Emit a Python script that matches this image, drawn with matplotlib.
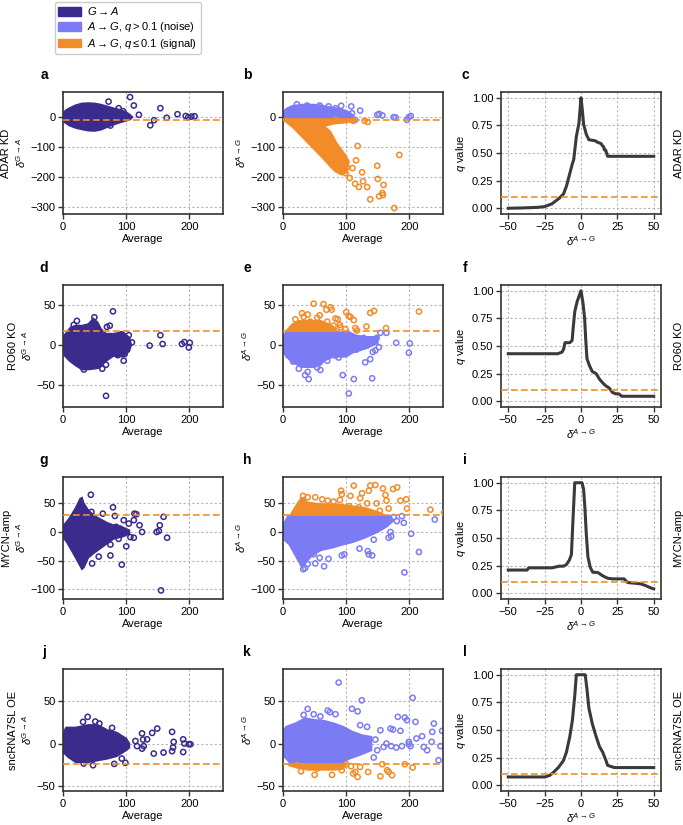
import numpy as np
import matplotlib
matplotlib.use("Agg")
import matplotlib.pyplot as plt
from matplotlib.patches import Patch

plt.rcParams['font.family'] = ['Liberation Sans', 'DejaVu Sans']
plt.rcParams['mathtext.fontset'] = 'custom'
plt.rcParams['mathtext.rm'] = 'Liberation Sans'
plt.rcParams['mathtext.it'] = 'Liberation Sans:italic'
plt.rcParams['mathtext.bf'] = 'Liberation Sans:bold'
plt.rcParams['font.size'] = 8

# colours
GA_COL = '#3b2b8c'
NOISE_COL = '#7b7cf4'
SIGNAL_COL = '#f28c28'
CURVE_COL = '#3a3a3a'

rows = ["ADAR KD", "RO60 KO", "MYCN-amp", "sncRNA7SL OE"]
thresholds = [-10, 17, 30, -23.6]
ylims = [(-323, 84), (-78, 75), (-117, 96), (-56, 88)]

# ---- row 1 : ADAR KD ----
a_core_x = [0, 5, 12, 20, 30, 40, 50, 60, 70, 80, 90, 100, 106, 110, 106, 100, 90, 80, 70, 60, 50, 40, 30, 20, 10, 3, 0]
a_core_y = [14, 24, 32, 40, 46, 47, 46, 42, 36, 30, 25, 17, 8, 0, -8, -12, -18, -25, -33, -42, -46, -45, -41, -36, -28, -18, -12]
a_out_x = [72, 106, 112, 120, 138, 144, 154, 164, 181, 194, 198, 203, 208, 88, 75, 95]
a_out_y = [52, 67, 39, 8, -27, -10, 30, -2, 10, 4, 0, 2, 3, 30, -28, 20]

b_noise_core_x = [0, 5, 15, 30, 50, 60, 70, 85, 100, 108, 112, 112, 0]
b_noise_core_y = [18, 28, 38, 42, 42, 40, 35, 30, 22, 12, 0, -10, -10]
b_noise_x = [22, 38, 58, 72, 83, 92, 108, 122, 109, 149, 152, 157, 175, 178, 196, 199, 202, 114]
b_noise_y = [43, 39, 39, 36, 30, 38, 36, 22, 13, 8, 11, 6, 0, -1, -9, 0, 4, -9]
b_sig_core_x = [0, 112, 112, 100, 80, 65, 75, 85, 100, 104, 100, 92, 82, 75, 60, 45, 30, 15, 0]
b_sig_core_y = [-6, -6, -14, -18, -22, -30, -48, -87, -130, -150, -185, -192, -180, -165, -130, -98, -65, -33, -8]
b_sig_x = [70, 83, 89, 94.5, 100, 101, 99, 105.5, 110, 115.6, 118, 114, 120, 125, 126.6, 133, 138, 149, 150,
           152, 157, 158, 159, 176, 184, 129, 134, 111, 83]
b_sig_y = [-72, -100, -137, -133, -148, -167, -187, -203, -170, -144, -96, -222, -233, -184, -214, -233, -274, -162, -206,
           -264, -253, -260, -226, -303, -126, -12, -16, -12, -9]

c_delta = [-50, -40, -30, -25, -20, -15, -12, -10, -8, -6, -5, -3.2, -1.4, 0, 0.9, 1.8, 3.6, 5.4, 10, 10.9, 13.8,
           14.5, 15.6, 16, 17, 17.6, 18.3, 50]
c_q = [0, 0.003, 0.008, 0.015, 0.04, 0.09, 0.13, 0.2, 0.3, 0.4, 0.44, 0.65, 0.77, 1.0, 0.89, 0.76, 0.67, 0.62, 0.61,
       0.6, 0.585, 0.57, 0.555, 0.53, 0.525, 0.5, 0.47, 0.47]

# ---- row 2 : RO60 KO ----
d_core_x = [0, 5, 12, 20, 30, 40, 48, 55, 60, 68, 80, 95, 105, 108, 105, 95, 80, 65, 58, 50, 40, 30, 20, 10, 3, 0]
d_core_y = [10, 15, 22, 24, 24, 26, 33, 28, 20, 14, 14, 16, 9, 0, -8, -15, -14, -22, -29, -30, -31, -31, -26, -20, -14, -8]
d_out_x = [22, 49.6, 79, 74, 69.5, 92, 104, 109, 96, 97.6, 68, 33, 62, 68, 137, 154, 157.5, 188, 192, 199, 200.5,
           17, 26, 80, 86.5]
d_out_y = [30, 34.5, 42, 24, 22.5, 13, 12, 3, -20, -11.5, -64, -31, -30, -25, -1, 12, 1, 1, 3.4, -3.4, 2.5,
           25, 21, 1, -13]

e_noise_core_x = [0, 5, 105, 115, 130, 150, 150, 130, 110, 100, 80, 65, 60, 50, 30, 15, 5, 0]
e_noise_core_y = [10, 16, 16, 12, 10, 10, 2, -5, -10, -15, -15, -20, -25, -28, -28, -22, -15, -8]
e_noise_x = [16, 25, 35, 39, 40.6, 54, 59, 70, 83, 94.5, 104, 112, 130, 138, 141, 142, 146, 151.5, 148, 154,
             163.6, 179, 199, 200.5, 127.7, 122, 116, 106.6, 88, 133]
e_noise_y = [-21, -30, -38, -34, -43, -28.5, -31.5, -20, -13.6, -38, -61, -43, -22, -18, -42, -9, -7, -3, 8.5, 15,
             15, 2.5, -10, 1.7, 8.5, 6, -6, -1, -16, -1]
e_sig_core_x = [5, 80, 85, 75, 60, 40, 25, 15, 8]
e_sig_core_y = [17, 17, 20, 25, 30, 30, 30, 26, 20]
e_sig_x = [30, 32.7, 48.5, 58, 64, 68.6, 75, 77, 83, 86.5, 90, 100, 104, 106.6, 112, 114.5, 117, 132, 138, 144,
           163, 215, 98.7, 80, 54, 43, 19.5, 39, 70, 91]
e_sig_y = [39.6, 35, 51.5, 37, 51, 44, 47, 44, 33, 32, 25, 41, 36, 35, 31, 21, 18, 23, 40, 42.5,
           21, 41.7, 19.6, 24, 34, 29, 32, 38, 29, 22]

f_delta = [-50, -16, -13, -12, -11, -7.7, -6.1, -5.4, -4.3, -2.7, 0, 1.4, 2.5, 3.2, 4.1, 5.9, 7.7, 10.4, 12.7,
           14.9, 17, 19.4, 21.6, 24, 26, 28, 50]
f_q = [0.43, 0.43, 0.445, 0.47, 0.53, 0.53, 0.55, 0.66, 0.81, 0.9, 1.0, 0.885, 0.75, 0.57, 0.385, 0.32, 0.27, 0.25,
       0.2, 0.167, 0.14, 0.12, 0.08, 0.067, 0.067, 0.045, 0.045]

# ---- row 3 : MYCN-amp ----
g_core_x = [0, 10, 20, 27, 30, 33, 40, 50, 60, 70, 80, 95, 105, 105, 95, 80, 70, 60, 50, 40, 33, 30, 25, 15, 5, 0]
g_core_y = [10, 24, 42, 58, 60, 50, 38, 28, 22, 16, 12, 8, 3, -3, -8, -12, -20, -28, -36, -45, -62, -65, -55, -35, -16, -10]
g_out_x = [44, 45, 63, 79, 82, 96, 104, 112, 113, 116, 121, 125, 106.6, 112, 100, 75, 93, 56.5, 46, 148, 151.5,
           153, 159, 164.6, 155, 70, 75, 88, 84, 90]
g_out_y = [65, 35, 32, 43, 28, 20.6, 14.7, 20.6, 32, 31, 11.8, 0, -9, -10, -25, -41, -57, -43, -55, 0, 1.8,
           11.8, 26.5, -10, -102, -10, -22, -12, 9, 6]

h_noise_core_x = [0, 8, 170, 175, 165, 150, 130, 110, 95, 80, 60, 45, 35, 30, 20, 10, 0]
h_noise_core_y = [12, 28, 28, 20, 10, 0, -10, -18, -22, -27, -32, -42, -55, -62, -42, -22, -12]
h_noise_x = [35, 32, 39, 48.5, 51, 58, 65, 72, 93, 97, 121, 134, 135.6, 141, 143.5, 167, 171, 170, 191, 192,
             202.6, 215, 240, 188, 180, 175]
h_noise_y = [-63, -65, -56, -39, -55, -45, -60, -47, -41, -39, -29, -33.5, -39, -41, -13.5, -10, -7.6, 0, 16, -70.6,
             -3, -35, 21.8, 27.6, 19, 26]
h_sig_core_x = [12, 20, 28, 32, 38, 50, 70, 90, 110, 130, 150, 160]
h_sig_core_y = [30, 45, 58, 60, 52, 50, 48, 48, 45, 42, 35, 30]
h_sig_x = [31.7, 39, 51, 62, 70.7, 80, 90, 92, 93, 106.6, 112, 122, 125, 135.6, 138, 146, 158, 162, 163.6, 174,
           180.5, 185.7, 195, 196, 153, 167, 233, 255, 148, 133, 120, 104.5]
h_sig_y = [63, 60.6, 60.6, 57, 54.7, 53, 56, 72, 66, 63, 81, 58.8, 67.6, 72, 81, 82, 76, 64.7, 54.7, 75,
           78, 54.7, 57, 41, 37, 41, 39, 34, 50, 50, 43, 45]

i_delta = [-50, -37, -36, -20, -15, -12, -10, -8, -6.6, -5.4, -4.3, 0.7, 1.8, 2.7, 3.6, 4.75, 6.3, 8.1, 11.5,
           14.9, 18.3, 21.7, 29.6, 32, 37.7, 41, 44.3, 47.7, 50]
i_q = [0.21, 0.21, 0.23, 0.23, 0.245, 0.245, 0.26, 0.3, 0.35, 0.7, 1.0, 1.0, 0.94, 0.77, 0.545, 0.33, 0.236, 0.19,
       0.188, 0.158, 0.136, 0.13, 0.13, 0.097, 0.09, 0.085, 0.07, 0.05, 0.04]

# ---- row 4 : sncRNA7SL OE ----
j_core_x = [0, 5, 20, 40, 55, 70, 85, 100, 105, 105, 100, 85, 70, 55, 40, 20, 8, 0]
j_core_y = [12, 19, 19, 22, 22, 16, 13, 6, 0, -5, -8, -15, -18, -20, -22, -22, -16, -10]
j_out_x = [31.7, 39, 51, 57.5, 77.6, 83, 81, 98.7, 93, 47.5, 32.7, 114.5, 117, 125, 126.6, 127.7, 125, 133, 141,
           143.5, 149, 159, 172.5, 174, 172.5, 175, 190, 190, 192, 199, 201.6]
j_out_y = [25.6, 31.5, 26, 23.6, 18.5, 4, -24, -22.8, -17.7, -25.6, -23.6, 3, -3, 12, 4.7, -3, -6, 5, 12.6,
           -11.8, 17.7, -10.6, 13.8, -4.7, -9, 2, 5, -10, 0, -0.8, -0.8]

k_noise_core_x = [0, 5, 20, 35, 50, 65, 80, 95, 110, 125, 140, 140, 120, 105, 95, 10, 0]
k_noise_core_y = [14, 20, 24, 30, 28, 27, 24, 20, 14, 10, 8, -8, -14, -18, -22, -22, -14]
k_noise_x = [88, 39, 32.7, 48.5, 59, 70.7, 74, 83, 109, 118, 124.5, 122, 133, 154, 170, 174, 181.5, 185.7, 192.6,
             196, 205, 209.5, 211, 220, 238.5, 236, 251.7, 246, 227.9, 222.6, 199, 201.6, 199, 179, 171, 159,
             143.5, 146, 163.6, 188, 249, 235, 149, 135.6]
k_noise_y = [72, 40.9, 33.8, 34.6, 32, 39, 37, 34.6, 41, 38, 51, 21.7, 19.7, 15.7, 17.7, 16.5, 31.5, 15, 30.7,
             27.6, 54, 25.6, 6, 8.7, 23.6, 13.8, 15, -19.7, -7.9, -4, -0.8, -3, 2, -4.7, -3, -4,
             -16.5, 4.7, 0, -3, -3, 2, -7.9, 3.9]
k_sig_core_x = [8, 100, 95, 80, 60, 40, 20, 10]
k_sig_core_y = [-24, -24, -30, -31, -31, -31, -28, -26]
k_sig_x = [22, 28.5, 39, 50, 54, 62, 69.6, 77.6, 93, 100, 107.6, 110.8, 114.5, 118, 122, 134.6, 154, 157, 164.6,
           167, 172.5, 192.6, 205]
k_sig_y = [-25.6, -32.7, -28, -37, -29.5, -27.6, -26.8, -37, -31.5, -24.4, -26.8, -35.4, -33.5, -39.4, -27.6,
           -33.5, -38.6, -24.4, -31.5, -33.5, -37.4, -24.4, -28.3]

l_delta = [-50, -24.7, -21.3, -19, -15.6, -12.2, -10, -7.7, -5.9, -4.3, -3.2, 2.9, 4.1, 5.4, 7.7, 10.4, 12.7,
           14.9, 17, 18.3, 20.6, 22.9, 50]
l_q = [0.075, 0.075, 0.091, 0.116, 0.16, 0.22, 0.3, 0.44, 0.59, 0.81, 1.0, 1.0, 0.87, 0.7, 0.56, 0.44, 0.35,
       0.3, 0.23, 0.18, 0.17, 0.16, 0.16]

q_curves = [(c_delta, c_q), (f_delta, f_q), (i_delta, i_q), (l_delta, l_q)]

ga_sets = [(a_core_x, a_core_y, a_out_x, a_out_y), (d_core_x, d_core_y, d_out_x, d_out_y),
           (g_core_x, g_core_y, g_out_x, g_out_y), (j_core_x, j_core_y, j_out_x, j_out_y)]
ag_sets = [(b_noise_core_x, b_noise_core_y, b_noise_x, b_noise_y, b_sig_core_x, b_sig_core_y, b_sig_x, b_sig_y),
           (e_noise_core_x, e_noise_core_y, e_noise_x, e_noise_y, e_sig_core_x, e_sig_core_y, e_sig_x, e_sig_y),
           (h_noise_core_x, h_noise_core_y, h_noise_x, h_noise_y, h_sig_core_x, h_sig_core_y, h_sig_x, h_sig_y),
           (k_noise_core_x, k_noise_core_y, k_noise_x, k_noise_y, k_sig_core_x, k_sig_core_y, k_sig_x, k_sig_y)]

W, H = 683, 825
fig = plt.figure(figsize=(W / 100, H / 100), dpi=100)

col_left = [63, 283, 501]
letter_x = [44, 247, 465]
ax_w = 160
row_top = [92, 285, 477, 669]
ax_h = 122
letters = "abcdefghijkl"


def style(ax):
    ax.grid(True, color='#b5b5b5', linestyle=(0, (2, 2)), linewidth=0.8)
    ax.set_axisbelow(True)
    for sp in ax.spines.values():
        sp.set_color('#333333')
        sp.set_linewidth(1.2)
    ax.tick_params(length=3.5, width=1, color='#333333', labelsize=8, pad=2)


def draw_cloud(ax, cx, cy, px, py, col, z):
    ax.fill(cx, cy, color=col, lw=1.2, zorder=z)
    ax.scatter(px, py, s=14, facecolors='none', edgecolors=col, linewidths=1.1, zorder=z)


for r in range(4):
    axes = []
    for c in range(3):
        x0 = col_left[c] / W
        y0 = 1 - (row_top[r] + ax_h) / H
        ax = fig.add_axes([x0, y0, ax_w / W, ax_h / H])
        style(ax)
        fig.text(letter_x[c] / W, 1 - (row_top[r] - 13) / H, letters[3 * r + c],
                 fontsize=10, fontweight='bold', ha='center', va='baseline')
        axes.append(ax)
    ax_ga, ax_ag, ax_q = axes

    cx, cy, px, py = ga_sets[r]
    draw_cloud(ax_ga, cx, cy, px, py, GA_COL, 2)
    ncx, ncy, npx, npy, scx, scy, spx, spy = ag_sets[r]
    draw_cloud(ax_ag, ncx, ncy, npx, npy, NOISE_COL, 2)
    draw_cloud(ax_ag, scx, scy, spx, spy, SIGNAL_COL, 3)

    for ax in (ax_ga, ax_ag):
        ax.axhline(thresholds[r], color=SIGNAL_COL, ls=(0, (4, 2)), lw=1.2, zorder=4)
        ax.set_xlim(0, 253)
        ax.set_ylim(*ylims[r])
        ax.set_xticks([0, 100, 200])
        ax.set_xlabel("Average", fontsize=8, labelpad=2)
    ax_ga.set_ylabel(rows[r] + "\n" + r"$\delta^{G\rightarrow A}$", fontsize=8, labelpad=2)
    ax_ag.set_ylabel(r"$\delta^{A\rightarrow G}$", fontsize=8, labelpad=2)

    qd, qv = q_curves[r]
    ax_q.plot(qd, qv, color=CURVE_COL, lw=2.2, solid_joinstyle='round', zorder=3)
    ax_q.axhline(0.1, color=SIGNAL_COL, ls=(0, (4, 2)), lw=1.2, zorder=4)
    ax_q.set_xlim(-55, 55)
    ax_q.set_ylim(-0.052, 1.052)
    ax_q.set_xticks([-50, -25, 0, 25, 50])
    ax_q.set_yticks([0, 0.25, 0.5, 0.75, 1.0])
    ax_q.set_yticklabels(["0.00", "0.25", "0.50", "0.75", "1.00"])
    ax_q.set_xlabel(r"$\delta^{A\rightarrow G}$", fontsize=8, labelpad=2)
    ax_q.set_ylabel(r"$q$ value", fontsize=8, labelpad=3)
    ax_q.text(1.11, 0.5, rows[r], transform=ax_q.transAxes, rotation=90, fontsize=8,
              ha='center', va='center')

handles = [Patch(color=GA_COL), Patch(color=NOISE_COL), Patch(color=SIGNAL_COL)]
labels = [r"$G\rightarrow A$", r"$A\rightarrow G$, $q > 0.1$ (noise)", r"$A\rightarrow G$, $q \leq 0.1$ (signal)"]
fig.legend(handles, labels, loc='upper left', bbox_to_anchor=(55 / W, 1 - 2 / H), fontsize=8,
           handlelength=2.0, handleheight=0.8, handletextpad=0.6, frameon=True, edgecolor='#cccccc',
           framealpha=1, borderpad=0.3, labelspacing=0.25, borderaxespad=0)

fig.savefig("out.png", dpi=100)
